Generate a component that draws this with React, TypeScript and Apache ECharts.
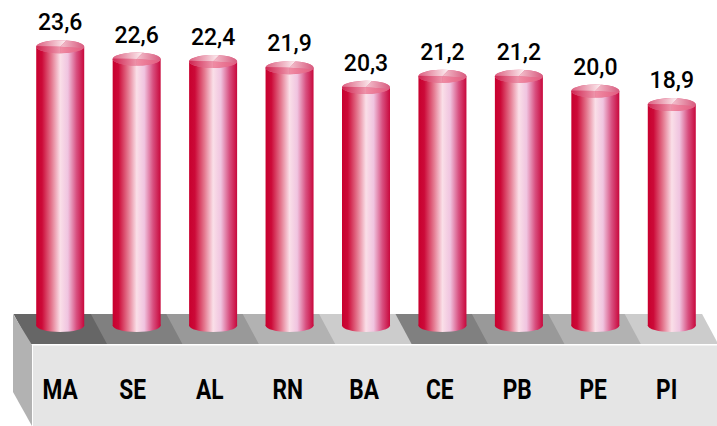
import React, { useEffect, useRef } from "react";
import * as echarts from "echarts";

const categories = ["MA", "SE", "AL", "RN", "BA", "CE", "PB", "PE", "PI"];
const values = [23.6, 22.6, 22.4, 21.9, 20.3, 21.2, 21.2, 20.0, 18.9];
const labels = ["23,6", "22,6", "22,4", "21,9", "20,3", "21,2", "21,2", "20,0", "18,9"];
const floorColors = ["#666666", "#808080", "#999999", "#b2b2b2", "#cccccc", "#808080", "#999999", "#b2b2b2", "#cccccc"];

const W = 717, H = 426;
const backY = 314, frontY = 344, pitch = 76.4;

export default function App() {
  const ref = useRef<HTMLDivElement>(null);
  useEffect(() => {
    const chart = echarts.init(ref.current!, undefined, { renderer: "svg" });
    const floor = floorColors.map((c, i) => ({
      type: "polygon",
      z: i === 0 ? 1 : 0,
      shape: { points: [
        [13.5 + i * pitch, backY], [13.5 + (i + 1) * pitch + 1, backY],
        [29.6 + (i + 1) * pitch + 1, frontY], [29.6 + i * pitch, frontY],
      ] },
      style: { fill: c },
    }));
    const body = new echarts.graphic.LinearGradient(0, 0, 1, 0, [
      { offset: 0, color: "#c8002e" },
      { offset: 0.12, color: "#cc0a38" },
      { offset: 0.32, color: "#e4788f" },
      { offset: 0.5, color: "#fadfe8" },
      { offset: 0.66, color: "#f0c4e0" },
      { offset: 0.84, color: "#d85080" },
      { offset: 1, color: "#c8083c" },
    ]);
    chart.setOption({
      animation: false,
      backgroundColor: "#ffffff",
      graphic: [
        ...floor,
        { type: "polygon", z: 2, shape: { points: [[13, backY], [32, 345], [32, H], [13, 392]] }, style: { fill: "#b2b2b2" } },
        { type: "rect", z: 2, shape: { x: 32, y: frontY, width: W - 32, height: H - frontY }, style: { fill: "#ffffff" } },
        { type: "rect", z: 2, shape: { x: 33, y: 345.5, width: W - 33, height: H - 345.5 }, style: { fill: "#e5e5e5" } },
      ],
      grid: { left: 22, right: 7, top: 29.5, bottom: 89 },
      xAxis: {
        type: "category",
        data: categories,
        axisLine: { show: false },
        axisTick: { show: false },
        axisLabel: { show: false },
      },
      yAxis: { type: "value", min: 0, max: 25, show: false },
      series: [{
        type: "custom",
        z: 5,
        data: values.map((v, i) => [i, v]),
        encode: { x: 0, y: 1 },
        renderItem: (params: any, api: any) => {
          const [cx, ty] = api.coord([api.value(0), api.value(1)]);
          const rx = 24, ry = 6.5, by = 325.5;
          const i = params.dataIndex;
          const slice = (a0: number, a1: number, color: any) => ({
            type: "sector",
            shape: { cx: 0, cy: 0, r: rx, r0: 0, startAngle: a0, endAngle: a1 },
            x: cx, y: ty,
            scaleY: ry / rx,
            style: { fill: color },
          });
          const grad = (a: string, b: string) => new echarts.graphic.LinearGradient(0, 0, 1, 0, [
            { offset: 0, color: a }, { offset: 1, color: b },
          ]);
          return {
            type: "group",
            children: [
              { type: "rect", shape: { x: cx - rx, y: ty, width: rx * 2, height: by - ty }, style: { fill: body } },
              { type: "ellipse", shape: { cx, cy: by, rx, ry }, style: { fill: body } },
              slice(0, Math.PI * 2, "#e0688a"),
              slice(Math.PI * 1.03, Math.PI * 1.58, grad("#dc5f80", "#fdf2f4")),
              slice(Math.PI * 1.58, Math.PI * 2.08, grad("#f4c4d0", "#d85a7e")),
              slice(Math.PI * 0.08, Math.PI * 0.5, grad("#f08ca4", "#e25c80")),
              slice(Math.PI * 0.5, Math.PI * 1.03, grad("#cf2450", "#ee96ac")),
              { type: "text", x: cx, y: ty - 12.5, style: { text: labels[i], fill: "#000", fontFamily: "Roboto", fontWeight: 500, fontSize: 23, align: "center", verticalAlign: "bottom" } },
              { type: "text", x: 42.5 + i * 76.7, y: 389, scaleX: 0.81, z2: 10, style: { text: categories[i], fill: "#000", fontFamily: "Roboto", fontWeight: 700, fontSize: 28, align: "left", verticalAlign: "middle" } },
            ],
          };
        },
      }],
    });
    return () => chart.dispose();
  }, []);
  return <div ref={ref} style={{ position: "fixed", left: 0, top: 0, width: W, height: H }} />;
}
